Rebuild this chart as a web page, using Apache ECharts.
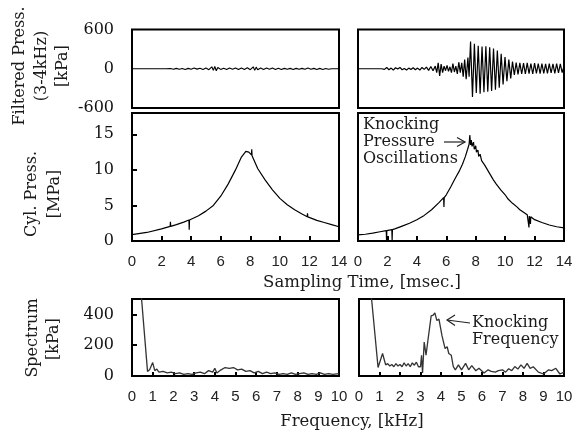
<!DOCTYPE html>
<html><head><meta charset="utf-8">
<script src="https://cdn.jsdelivr.net/npm/echarts@6/dist/echarts.min.js"></script>
<style>html,body{margin:0;padding:0;background:#fff}#c{width:581px;height:434px}</style>
</head><body><div id="c"></div>
<script>
// ---- tick labels ----
const timeTicks = [0, 2, 4, 6, 8, 10, 12, 14];
const freqTicks = [0, 1, 2, 3, 4, 5, 6, 7, 8, 9, 10];
const filtTicks = [-600, 0, 600];
const cylTicks = [0, 5, 10, 15];
const specTicks = [0, 200, 400];

// ---- filtered pressure (3-4 kHz) [kPa] vs time [ms] ----
const filtNormal = [[0,0],[2.3,0],[2.4,-8],[2.6,3],[2.8,-8],[3.0,6],[3.2,-8],[3.4,3],[3.6,-10],[3.8,6],[4.0,-8],[4.2,10],[4.4,-6],[4.6,8],[4.8,-10],[5.0,10],[5.2,-15],[5.4,30],[5.5,-25],[5.6,35],[5.7,-30],[5.8,20],[6.0,-10],[6.2,8],[6.4,-10],[6.6,10],[6.8,-8],[7.0,10],[7.2,-12],[7.4,12],[7.6,-10],[7.8,15],[8.0,-15],[8.2,30],[8.3,-25],[8.4,25],[8.5,-15],[8.7,12],[8.9,-10],[9.1,10],[9.3,-8],[9.5,10],[9.7,-10],[9.9,8],[10.1,-10],[10.3,6],[10.5,-8],[10.7,6],[10.9,-10],[11.1,6],[11.3,-8],[11.5,6],[11.7,-8],[11.9,10],[12.1,-8],[12.3,6],[12.5,-10],[12.7,6],[12.9,-10],[13.1,3],[13.3,-8],[13.5,0],[14,0]];
const filtKnock = [[0,0],[1.6,0],[1.7,15],[1.8,-10],[1.95,20],[2.1,-15],[2.25,10],[2.4,-20],[2.55,15],[2.7,-5],[2.85,20],[3.0,-15],[3.15,5],[3.3,-20],[3.45,10],[3.6,-10],[3.75,15],[3.9,-15],[4.05,10],[4.2,-20],[4.35,20],[4.5,-10],[4.65,25],[4.8,-25],[4.95,35],[5.1,-30],[5.25,40],[5.35,-60],[5.45,90],[5.55,-110],[5.65,70],[5.75,-60],[5.85,40],[5.95,-30],[6.05,50],[6.15,-40],[6.25,30],[6.35,-60],[6.45,80],[6.55,-50],[6.65,40],[6.75,-80],[6.85,100],[6.95,-60],[7.05,90],[7.15,-120],[7.25,140],[7.35,-160],[7.47,170],[7.55,-120],[7.65,415],[7.78,-430],[7.91,380],[8.04,-370],[8.17,350],[8.3,-380],[8.43,340],[8.56,-360],[8.69,345],[8.82,-350],[8.95,330],[9.08,-340],[9.21,310],[9.34,-320],[9.47,280],[9.6,-290],[9.73,230],[9.86,-240],[9.99,180],[10.12,-190],[10.25,140],[10.38,-150],[10.5,110],[10.625,-95],[10.75,95],[10.875,-85],[11.0,90],[11.125,-80],[11.25,85],[11.375,-80],[11.5,90],[11.625,-75],[11.75,80],[11.875,-80],[12.0,85],[12.125,-70],[12.25,80],[12.375,-75],[12.5,80],[12.625,-70],[12.75,75],[12.875,-70],[13.0,80],[13.125,-65],[13.25,75],[13.375,-70],[13.5,80],[13.625,-65],[13.75,75],[13.875,-60],[14.0,40]];

// ---- cylinder pressure [MPa] vs time [ms] ----
const cylNormal = [[0,0.9],[1,1.2],[2,1.7],[2.58,2.05],[2.6,2.7],[2.62,2.05],[3,2.3],[3.5,2.65],[3.85,2.95],[3.87,1.6],[3.89,2.95],[4,3.0],[4.5,3.55],[5,4.2],[5.5,5.0],[6,6.3],[6.5,8.0],[7,10.0],[7.4,11.8],[7.7,12.6],[7.9,12.5],[8.08,12.1],[8.1,12.9],[8.12,12.0],[8.5,10.2],[9,8.6],[9.5,7.2],[10,6.0],[10.5,5.1],[11,4.4],[11.5,3.8],[11.85,3.4],[11.87,3.9],[11.89,3.4],[12,3.3],[12.5,2.9],[13,2.6],[13.5,2.3],[14,2.0]];
const cylKnock = [[0,0.85],[0.5,0.95],[1,1.1],[1.5,1.3],[1.92,1.45],[1.94,0.1],[1.96,1.45],[2.3,1.6],[2.32,0.1],[2.34,1.6],[2.5,1.7],[3,2.1],[3.5,2.5],[4,3.0],[4.5,3.6],[5,4.4],[5.5,5.4],[5.82,6.1],[5.84,4.8],[5.86,6.1],[6,6.5],[6.3,7.6],[6.6,8.8],[6.9,9.9],[7.1,10.8],[7.3,11.9],[7.45,12.9],[7.55,13.6],[7.6,14.9],[7.65,13.5],[7.7,14.2],[7.75,13.3],[7.85,13.9],[7.9,12.9],[8.0,13.4],[8.05,12.5],[8.15,12.8],[8.2,11.9],[8.3,12.2],[8.4,11.3],[8.5,11.5],[8.6,10.7],[8.7,10.8],[8.8,10.0],[8.9,10.1],[9.0,9.3],[9.1,9.4],[9.2,8.6],[9.3,8.7],[9.4,8.0],[9.5,8.0],[9.7,7.2],[9.8,7.2],[10,6.5],[10.2,5.9],[10.5,5.3],[10.8,4.8],[11,4.4],[11.5,3.7],[11.6,3.5],[11.62,1.9],[11.64,3.5],[11.7,3.4],[11.72,2.4],[11.74,3.4],[12,3.0],[12.5,2.6],[13,2.25],[13.5,2.0],[14,1.85]];

// ---- spectrum [kPa] vs frequency [kHz] ----
const specNormal = [[0,900],[0.2,800],[0.45,520],[0.75,30],[0.85,40],[1.0,87],[1.1,35],[1.2,45],[1.3,25],[1.5,30],[1.7,20],[1.9,25],[2.1,15],[2.3,20],[2.5,10],[2.7,15],[2.9,10],[3.1,20],[3.3,25],[3.5,15],[3.7,35],[3.9,25],[4.0,50],[4.1,20],[4.3,40],[4.5,55],[4.7,50],[4.9,55],[5.1,40],[5.3,45],[5.5,30],[5.7,35],[5.9,20],[6.1,30],[6.3,15],[6.5,25],[6.7,15],[6.9,20],[7.1,10],[7.3,15],[7.5,10],[7.7,20],[7.9,10],[8.1,15],[8.3,20],[8.5,10],[8.7,15],[8.9,10],[9.1,20],[9.3,10],[9.5,15],[9.7,10],[10,15]];
const specKnock = [[0,900],[0.3,800],[0.6,520],[0.93,55],[1.0,60],[1.15,146],[1.3,72],[1.4,80],[1.5,65],[1.6,75],[1.7,60],[1.8,80],[1.9,65],[2.0,75],[2.1,60],[2.2,85],[2.3,65],[2.4,80],[2.5,60],[2.6,85],[2.7,70],[2.8,90],[2.9,60],[3.0,60],[3.05,135],[3.1,20],[3.18,220],[3.27,135],[3.37,240],[3.52,390],[3.62,395],[3.7,410],[3.8,360],[3.9,370],[4.05,260],[4.2,178],[4.3,190],[4.38,146],[4.5,135],[4.6,61],[4.7,40],[4.85,72],[5.0,40],[5.2,82],[5.35,40],[5.5,68],[5.7,34],[5.85,50],[6.1,19],[6.3,40],[6.45,30],[6.65,25],[6.8,35],[7.0,40],[7.15,25],[7.3,47],[7.45,35],[7.6,61],[7.75,45],[7.9,72],[8.05,50],[8.2,82],[8.35,50],[8.5,60],[8.75,25],[9.0,13],[9.25,40],[9.4,35],[9.6,50],[9.8,13],[10,25]];

const serif = '"DejaVu Serif", "Liberation Serif", serif';
const sans = '"Liberation Sans", Arial, sans-serif';

const grids = [
  {left:132, top:29.5, width:207, height:78.5},
  {left:358, top:29.5, width:206, height:78.5},
  {left:132, top:113, width:207, height:128},
  {left:358, top:113, width:206, height:128},
  {left:132, top:299, width:207, height:77},
  {left:359, top:299, width:205, height:77}
].map(g => Object.assign(g, {show:true, borderColor:'#000', borderWidth:2, backgroundColor:'transparent', containLabel:false}));

function xAx(gi, max, interval, labels, ticks, tickLen, show) {
  return {
    type:'value', gridIndex:gi, min:0, max:max, interval:interval,
    axisLine:{show:false}, splitLine:{show:false},
    axisTick:{show:show, inside:true, length:tickLen, customValues:ticks, lineStyle:{color:'#000', width:2}},
    axisLabel:{show:show, customValues:labels, margin:13, fontFamily:sans, fontSize:15, color:'#222'}
  };
}
function yAx(gi, min, max, interval, labels, ticks, showLabels) {
  return {
    type:'value', gridIndex:gi, min:min, max:max, interval:interval,
    axisLine:{show:false}, splitLine:{show:false},
    axisTick:{show:ticks.length>0, inside:true, length:5, customValues:ticks, lineStyle:{color:'#000', width:2}},
    axisLabel:{show:showLabels, customValues:labels, margin:18, fontFamily:serif, fontSize:16, color:'#111'}
  };
}

const xAxis = [
  xAx(0, 14, 2, [], [], 5, false),
  xAx(1, 14, 2, [], [], 5, false),
  xAx(2, 14, 2, timeTicks, [2,4,6,8,10,12], 5, true),
  xAx(3, 14, 2, timeTicks, [2,4,6,8,10,12], 5, true),
  xAx(4, 10, 1, freqTicks, [1,2,3,4,5,6,7,8,9], 4, true),
  xAx(5, 10, 1, freqTicks, [1,2,3,4,5,6,7,8,9], 4, true)
];
const yAxis = [
  yAx(0, -600, 600, 600, filtTicks, [], true),
  yAx(1, -600, 600, 600, [], [], false),
  yAx(2, 0, 18, 5, cylTicks, [5,10,15], true),
  yAx(3, 0, 18, 5, [], [], false),
  yAx(4, 0, 500, 100, specTicks, [200,400], true),
  yAx(5, 0, 500, 100, [], [], false)
];

function line(i, data, color, width) {
  return {type:'line', xAxisIndex:i, yAxisIndex:i, data:data, showSymbol:false, symbol:'none',
    clip:true, lineStyle:{color:color, width:width}, animation:false, silent:true};
}
const series = [
  line(0, filtNormal, '#000', 1.1),
  line(1, filtKnock, '#000', 1.2),
  line(2, cylNormal, '#000', 1.2),
  line(3, cylKnock, '#000', 1.2),
  line(4, specNormal, '#333', 1.3),
  line(5, specKnock, '#333', 1.3)
];

function txt(x, y, text, opts) {
  return Object.assign({type:'text', x:x, y:y, silent:true,
    style:Object.assign({text:text, font:'16px ' + serif, fill:'#1a1a1a', textAlign:'center', textVerticalAlign:'middle'}, (opts && opts.style) || {})},
    opts && opts.rotation !== undefined ? {rotation:opts.rotation} : {});
}
const R = Math.PI / 2;
const graphic = [
  txt(20, 66, 'Filtered Press.', {rotation:R}),
  txt(42, 66, '(3-4kHz)', {rotation:R}),
  txt(63, 66, '[kPa]', {rotation:R}),
  txt(32, 194, 'Cyl. Press.', {rotation:R}),
  txt(55, 194, '[MPa]', {rotation:R}),
  txt(33, 338, 'Spectrum', {rotation:R}),
  txt(54, 339, '[kPa]', {rotation:R}),
  txt(362, 283, 'Sampling Time, [msec.]', {style:{font:'16.5px ' + serif}}),
  txt(352, 422, 'Frequency, [kHz]', {style:{font:'16.5px ' + serif}}),
  txt(363, 125, 'Knocking', {style:{textAlign:'left'}}),
  txt(363, 142, 'Pressure', {style:{textAlign:'left'}}),
  txt(363, 159, 'Oscillations', {style:{textAlign:'left'}}),
  txt(472, 323, 'Knocking', {style:{textAlign:'left'}}),
  txt(472, 340, 'Frequency', {style:{textAlign:'left'}}),
  {type:'line', silent:true, shape:{x1:444, y1:142, x2:465, y2:142}, style:{stroke:'#222', lineWidth:1.2}},
  {type:'polyline', silent:true, shape:{points:[[457,137.5],[465,142],[457,146.5]]}, style:{stroke:'#222', lineWidth:1.2, fill:null}},
  {type:'line', silent:true, shape:{x1:470, y1:323, x2:447, y2:320}, style:{stroke:'#222', lineWidth:1.2}},
  {type:'polyline', silent:true, shape:{points:[[455,315],[447,320],[455,325.5]]}, style:{stroke:'#222', lineWidth:1.2, fill:null}}
];

const chart = echarts.init(document.getElementById('c'), null, {renderer:'canvas'});
chart.setOption({animation:false, backgroundColor:'#fff', grid:grids, xAxis:xAxis, yAxis:yAxis, series:series, graphic:graphic});
</script></body></html>
